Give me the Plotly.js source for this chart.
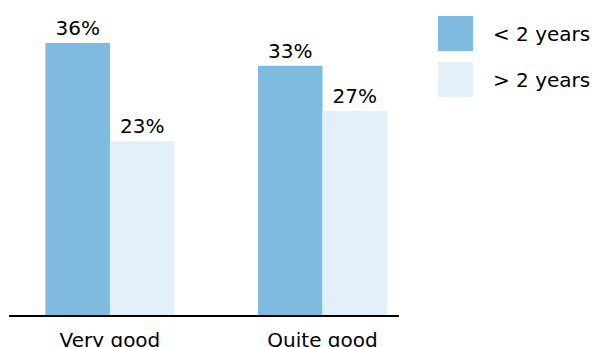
<!DOCTYPE html>
<html>
<head>
<meta charset="utf-8">
<script src="https://cdn.plot.ly/plotly-3.0.1.min.js"></script>
<style>html,body{margin:0;padding:0;background:#fff;}#chart{width:595px;height:347px;}</style>
</head>
<body>
<div id="chart"></div>
<script>
var categories = ["Very good", "Quite good"];
var seriesNames = ["< 2 years", "> 2 years"];
var lessThan2 = [36, 33];
var moreThan2 = [23, 27];
var colors = ["#7fbae0", "#e3f0f9"];
var FONT = "DejaVu Sans, Liberation Sans, Arial, sans-serif";

var traces = [lessThan2, moreThan2].map(function (vals, i) {
  return {
    type: "bar",
    name: seriesNames[i],
    x: categories,
    y: vals,
    marker: {color: colors[i], line: {width: 0}},
    text: vals.map(function (v) { return v + "%"; }),
    textposition: "outside",
    cliponaxis: false,
    textfont: {family: FONT, size: 20, color: "#000"},
    hoverinfo: "none"
  };
});

function px(x) { return (x - 9) / 390; }
function py(y) { return (315 - y) / 315; }

var shapes = [], annotations = [];
seriesNames.forEach(function (name, i) {
  var top = 16 + i * 46;
  shapes.push({type: "rect", xref: "paper", yref: "paper",
    x0: px(438), x1: px(473), y0: py(top + 35), y1: py(top),
    fillcolor: colors[i], line: {width: 0}});
  annotations.push({xref: "paper", yref: "paper", x: px(491), y: py(top + 18),
    xanchor: "left", yanchor: "middle", showarrow: false, text: name,
    font: {family: FONT, size: 20, color: "#000"}});
});

var layout = {
  width: 595, height: 347,
  margin: {l: 9, r: 196, t: 0, b: 32, pad: 0},
  paper_bgcolor: "#fff", plot_bgcolor: "#fff",
  barmode: "group", bargap: 0.393, bargroupgap: 0,
  showlegend: false,
  xaxis: {range: [-0.475, 1.36], showline: true, linecolor: "#000", linewidth: 2,
    ticks: "", showgrid: false, zeroline: false, fixedrange: true,
    tickfont: {family: FONT, size: 20, color: "#000"}, ticklabelstandoff: 6},
  yaxis: {range: [0, 41.69], visible: false, showgrid: false, zeroline: false, fixedrange: true},
  shapes: shapes,
  annotations: annotations
};
Plotly.newPlot("chart", traces, layout, {displayModeBar: false, staticPlot: true});
</script>
</body>
</html>
